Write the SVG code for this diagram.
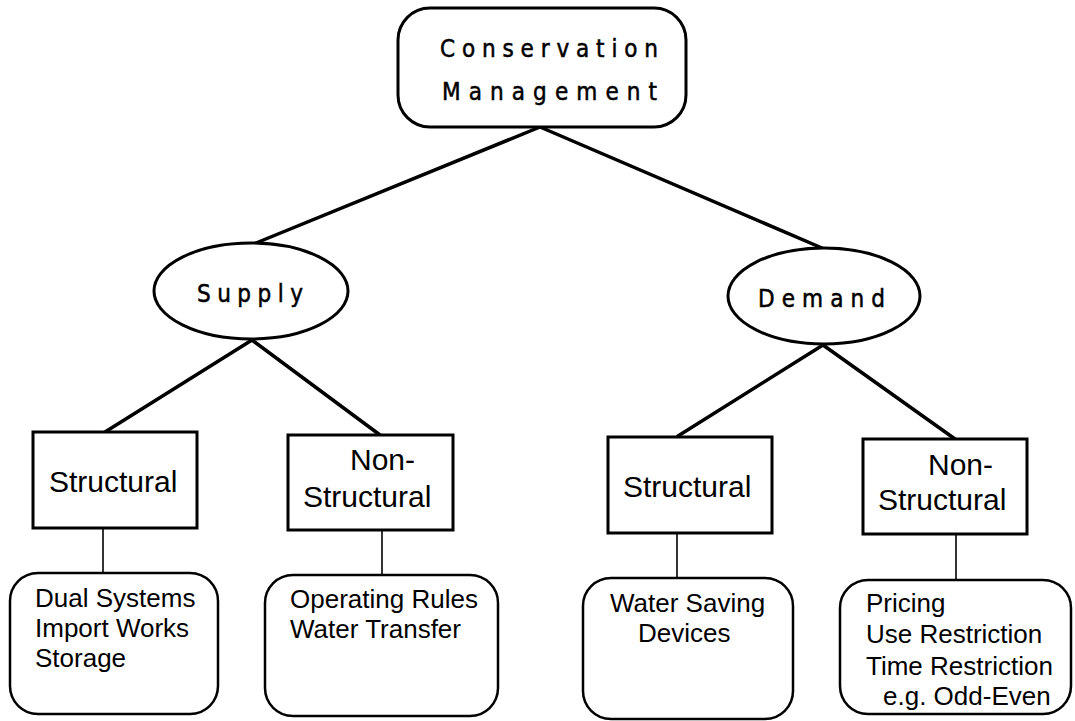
<svg xmlns="http://www.w3.org/2000/svg" width="1075" height="721" viewBox="0 0 1075 721">
<style>
.shape{fill:#fff;stroke:#000;stroke-width:3}
.round{fill:#fff;stroke:#000;stroke-width:2.5}
.conn{stroke:#000;stroke-width:3.5;fill:none;stroke-linecap:round}
.thin{stroke:#000;stroke-width:1.6;fill:none}
.head{font-family:"DejaVu Sans Condensed","DejaVu Sans",sans-serif;font-size:24px;fill:#000;stroke:#000;stroke-width:0.5}
.lab{font-family:"Liberation Sans",Arial,sans-serif;font-size:30px;fill:#000}
.item{font-family:"Liberation Sans",Arial,sans-serif;font-size:26px;fill:#000}
</style>
<rect width="1075" height="721" fill="#fff"/>
<g id="connectors">
<line class="conn" x1="540" y1="127" x2="256" y2="243"/>
<line class="conn" x1="540" y1="127" x2="822" y2="248"/>
<line class="conn" x1="252" y1="340" x2="105" y2="432"/>
<line class="conn" x1="252" y1="340" x2="380" y2="435"/>
<line class="conn" x1="823" y1="345" x2="678" y2="436"/>
<line class="conn" x1="823" y1="345" x2="955" y2="439"/>
<line class="thin" x1="103" y1="528" x2="103" y2="573"/>
<line class="thin" x1="382" y1="530" x2="382" y2="575"/>
<line class="thin" x1="677" y1="533" x2="677" y2="578"/>
<line class="thin" x1="956" y1="534" x2="956" y2="580"/>
</g>
<g id="conservation-management">
<rect class="shape" x="398" y="8" width="288" height="119" rx="32" ry="32"/>
<text class="head" x="440" y="57" textLength="218" lengthAdjust="spacing">Conservation</text>
<text class="head" x="442" y="100" textLength="215" lengthAdjust="spacing">Management</text>
</g>
<g id="supply">
<ellipse class="shape" cx="251" cy="291" rx="97" ry="48"/>
<text class="head" x="197" y="302" textLength="106" lengthAdjust="spacing">Supply</text>
</g>
<g id="demand">
<ellipse class="shape" cx="824" cy="296" rx="96" ry="48"/>
<text class="head" x="758" y="307" textLength="127" lengthAdjust="spacing">Demand</text>
</g>
<g id="supply-structural">
<rect class="shape" x="33" y="432" width="164" height="96"/>
<text class="lab" x="49" y="492">Structural</text>
</g>
<g id="supply-nonstructural">
<rect class="shape" x="288" y="435" width="165" height="95"/>
<text class="lab" x="350" y="470">Non-</text>
<text class="lab" x="303" y="507">Structural</text>
</g>
<g id="demand-structural">
<rect class="shape" x="608" y="437" width="164" height="96"/>
<text class="lab" x="623" y="497">Structural</text>
</g>
<g id="demand-nonstructural">
<rect class="shape" x="863" y="439" width="164" height="95"/>
<text class="lab" x="928" y="475">Non-</text>
<text class="lab" x="878" y="510">Structural</text>
</g>
<g id="supply-structural-items">
<rect class="round" x="10" y="573" width="208" height="141" rx="28" ry="28"/>
<text class="item" x="35" y="607">Dual Systems</text>
<text class="item" x="35" y="637">Import Works</text>
<text class="item" x="35" y="667">Storage</text>
</g>
<g id="supply-nonstructural-items">
<rect class="round" x="265" y="575" width="233" height="141" rx="28" ry="28"/>
<text class="item" x="290" y="608">Operating Rules</text>
<text class="item" x="290" y="638">Water Transfer</text>
</g>
<g id="demand-structural-items">
<rect class="round" x="583" y="578" width="210" height="141" rx="28" ry="28"/>
<text class="item" x="610" y="612">Water Saving</text>
<text class="item" x="638" y="642">Devices</text>
</g>
<g id="demand-nonstructural-items">
<rect class="round" x="840" y="580" width="231" height="134" rx="28" ry="28"/>
<text class="item" x="866" y="612">Pricing</text>
<text class="item" x="866" y="643">Use Restriction</text>
<text class="item" x="866" y="675">Time Restriction</text>
<text class="item" x="883" y="705">e.g. Odd-Even</text>
</g>
</svg>
